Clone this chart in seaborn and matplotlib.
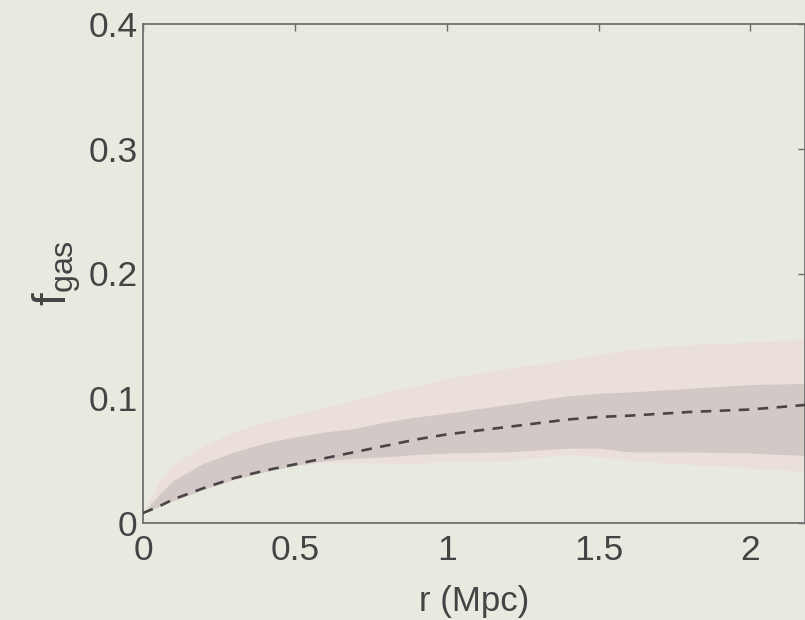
import matplotlib
matplotlib.use("Agg")
import matplotlib.pyplot as plt
import seaborn as sns
import pandas as pd
from matplotlib.ticker import FixedLocator, FuncFormatter

# ---- data ----
r_mpc = [0.0, 0.05, 0.1, 0.2, 0.3, 0.4, 0.5, 0.6, 0.7, 0.8, 0.9, 1.0,
         1.2, 1.4, 1.5, 1.6, 1.8, 2.0, 2.2]
fgas_mean = [0.008, 0.013, 0.019, 0.028, 0.036, 0.042, 0.047, 0.052, 0.057,
             0.062, 0.067, 0.071, 0.077, 0.083, 0.085, 0.086, 0.089, 0.091, 0.095]
inner_hi = [0.008, 0.022, 0.034, 0.048, 0.057, 0.064, 0.069, 0.073, 0.076,
            0.081, 0.085, 0.088, 0.095, 0.102, 0.104, 0.105, 0.108, 0.111, 0.112]
inner_lo = [0.008, 0.013, 0.018, 0.027, 0.035, 0.041, 0.046, 0.050, 0.052,
            0.053, 0.055, 0.056, 0.057, 0.060, 0.060, 0.057, 0.057, 0.056, 0.054]
outer_hi = [0.008, 0.032, 0.047, 0.062, 0.073, 0.081, 0.087, 0.093, 0.099,
            0.105, 0.110, 0.116, 0.124, 0.131, 0.135, 0.139, 0.143, 0.145, 0.148]
outer_lo = [0.008, 0.013, 0.018, 0.027, 0.035, 0.041, 0.046, 0.049, 0.048,
            0.048, 0.048, 0.049, 0.050, 0.055, 0.053, 0.050, 0.047, 0.044, 0.041]

x_ticks = [0, 0.5, 1, 1.5, 2]
y_ticks = [0, 0.1, 0.2, 0.3, 0.4]
x_label = "r (Mpc)"
y_label = r"$\mathregular{f}_{\mathregular{gas}}$"

df = pd.DataFrame({"r": r_mpc, "fgas": fgas_mean,
                   "in_lo": inner_lo, "in_hi": inner_hi,
                   "out_lo": outer_lo, "out_hi": outer_hi})

# ---- style ----
bg = "#e9eadf"
sns.set_theme(style="white")
plt.rcParams["font.family"] = ["Liberation Sans", "DejaVu Sans"]
plt.rcParams["mathtext.fontset"] = "custom"
plt.rcParams["mathtext.rm"] = "Liberation Sans"

fig = plt.figure(figsize=(8.05, 6.2), dpi=100, facecolor=bg)
ax = fig.add_axes([143 / 805, 1 - 523 / 620, (805 - 143) / 805, (523 - 24) / 620])
ax.set_facecolor(bg)

ax.fill_between(df["r"], df["out_lo"], df["out_hi"], color="#ebdfd9", lw=0, zorder=1)
ax.fill_between(df["r"], df["in_lo"], df["in_hi"], color="#d2c9c7", lw=0, zorder=2)
sns.lineplot(data=df, x="r", y="fgas", ax=ax, color="#4a4545", lw=1.9,
             dashes=False, zorder=3)
ax.lines[-1].set_dashes((4, 3.2))

ax.set_xlim(0, 2.18)
ax.set_ylim(0, 0.4)
ax.xaxis.set_major_locator(FixedLocator(x_ticks))
ax.yaxis.set_major_locator(FixedLocator(y_ticks))
fmt = FuncFormatter(lambda v, p: f"{v:g}")
ax.xaxis.set_major_formatter(fmt)
ax.yaxis.set_major_formatter(fmt)

txt = "#444444"
ax.tick_params(axis="both", which="major", direction="in", length=5, width=1,
               color="#6a6a6a", labelcolor=txt, labelsize=25.5,
               top=True, right=True)
ax.tick_params(axis="x", pad=8)
ax.tick_params(axis="y", pad=4)
for s in ax.spines.values():
    s.set_color("#707070")
    s.set_linewidth(1.3)
    s.set_visible(True)

ax.set_xlabel(x_label, fontsize=25, color=txt, labelpad=13)
ax.set_ylabel(y_label, fontsize=33, color=txt, labelpad=4)

fig.savefig("out.png", dpi=100, facecolor=bg)
